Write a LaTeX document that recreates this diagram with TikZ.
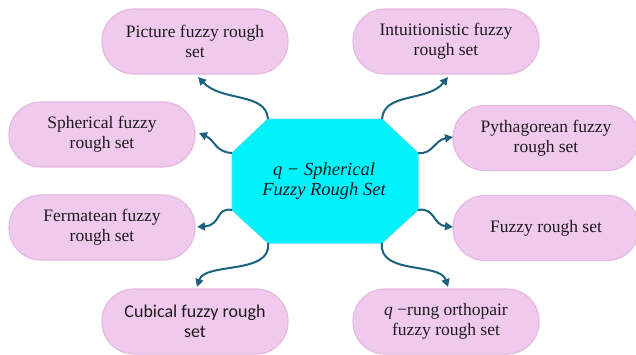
\documentclass[tikz,border=0pt]{standalone}
\usepackage{fontspec}
\setmainfont{Liberation Serif}
\newfontfamily\carlito{Carlito}
\usetikzlibrary{arrows.meta}
\definecolor{pillfill}{RGB}{240,202,236}
\definecolor{pilledge}{RGB}{230,185,225}
\definecolor{octfill}{RGB}{0,242,250}
\definecolor{octedge}{RGB}{60,225,240}
\definecolor{arrowcol}{RGB}{28,98,128}
\definecolor{txt}{RGB}{30,25,30}
\begin{document}
\begin{tikzpicture}[x=1pt,y=-1pt,
  pill/.style={draw=pilledge, line width=1.2pt, fill=pillfill, rounded corners=32pt,
    minimum width=186pt, minimum height=65pt, align=center,
    font=\fontsize{17.5}{20}\selectfont, text=txt, inner sep=0pt},
  link/.style={draw=arrowcol, line width=2pt, -{Triangle[length=8pt,width=8pt]}}]
\useasboundingbox (0,0) rectangle (636,354);

% pills
\node[pill] (pic) at (195,41.5) {Picture fuzzy rough\\set};
\node[pill] (sph) at (102,134.5) {Spherical fuzzy\\rough set};
\node[pill] (int) at (446,41.5) {Intuitionistic fuzzy\\rough set};
\node[pill] (pyt) at (546,138) {Pythagorean fuzzy\\rough set};
\node[pill] (fer) at (102,227.5) {Fermatean fuzzy\\rough set};
\node[pill, font=\carlito\fontsize{18}{20}\selectfont] (cub) at (195,321.5) {Cubical fuzzy rough\\set};
\node[pill] (fuz) at (546,228) {Fuzzy rough set};
\node[pill] (qro) at (446,321.5) {\textit{q} −rung orthopair\\fuzzy rough set};

% octagon
\coordinate (o1) at (268,119);
\coordinate (o2) at (382,119);
\coordinate (o3) at (418,153);
\coordinate (o4) at (418,210);
\coordinate (o5) at (382,243);
\coordinate (o6) at (268,243);
\coordinate (o7) at (232,210);
\coordinate (o8) at (232,153);
\draw[fill=octfill, draw=octedge, line width=1pt] (o1) -- (o2) -- (o3) -- (o4) -- (o5) -- (o6) -- (o7) -- (o8) -- cycle;
\node[align=center, text=txt, font=\itshape\fontsize{18.5}{20}\selectfont] (core) at (324,181) {q − Spherical\\Fuzzy Rough Set};

% arrow tips
\coordinate (t1) at (198,77);
\coordinate (t2) at (199,133);
\coordinate (t3) at (448,77);
\coordinate (t4) at (453,137);
\coordinate (t5) at (197,227);
\coordinate (t6) at (197,287);
\coordinate (t7) at (453,227);
\coordinate (t8) at (448,287);

\draw[link] (o1) .. controls (266,92) and (222,102) .. (t1);
\draw[link] (o8) .. controls (215,152) and (215,140) .. (t2);
\draw[link] (o2) .. controls (384,92) and (428,102) .. (t3);
\draw[link] (o3) .. controls (432,155) and (435,140) .. (t4);
\draw[link] (o7) .. controls (215,207) and (222,225) .. (t5);
\draw[link] (o6) .. controls (272,275) and (205,262) .. (t6);
\draw[link] (o4) .. controls (435,207) and (433,225) .. (t7);
\draw[link] (o5) .. controls (378,275) and (440,262) .. (t8);
\end{tikzpicture}
\end{document}
